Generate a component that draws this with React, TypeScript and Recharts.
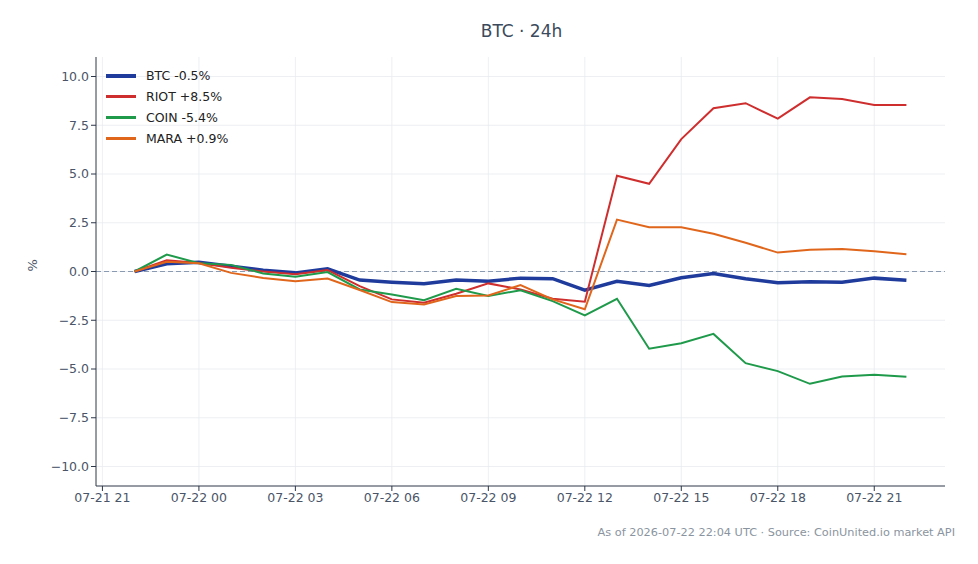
import { LineChart, Line, XAxis, YAxis, ReferenceLine } from "recharts";

// hours since 07-21 00:00 (UTC)
const hours = [22, 23, 24, 25, 26, 27, 28, 29, 30, 31, 32, 33, 34, 35, 36, 37, 38, 39, 40, 41, 42, 43, 44, 45, 46];

const btc = [0, 0.4, 0.48, 0.27, 0.07, -0.07, 0.14, -0.44, -0.55, -0.63, -0.44, -0.5, -0.34, -0.37, -0.96, -0.5, -0.72, -0.32, -0.1, -0.37, -0.58, -0.53, -0.55, -0.34, -0.45];
const riot = [0, 0.58, 0.44, 0.19, 0.0, -0.14, 0.07, -0.75, -1.43, -1.6, -1.14, -0.61, -0.92, -1.4, -1.55, 4.91, 4.5, 6.79, 8.37, 8.63, 7.84, 8.93, 8.85, 8.54, 8.54];
const coin = [0, 0.87, 0.42, 0.34, -0.1, -0.27, -0.03, -0.92, -1.18, -1.47, -0.89, -1.25, -0.96, -1.52, -2.25, -1.4, -3.96, -3.68, -3.2, -4.7, -5.11, -5.76, -5.39, -5.29, -5.4];
const mara = [0, 0.5, 0.42, -0.07, -0.33, -0.5, -0.36, -0.95, -1.57, -1.69, -1.26, -1.23, -0.7, -1.43, -1.94, 2.66, 2.27, 2.27, 1.94, 1.47, 0.97, 1.12, 1.16, 1.04, 0.89];

const xTicks = [21, 24, 27, 30, 33, 36, 39, 42, 45];
const yTicks = [-10, -7.5, -5, -2.5, 0, 2.5, 5, 7.5, 10];

const series = [
  { key: "btc", label: "BTC -0.5%", color: "#1f3b9c", width: 3.5 },
  { key: "riot", label: "RIOT +8.5%", color: "#cf2e2e", width: 2 },
  { key: "coin", label: "COIN -5.4%", color: "#1f9a4b", width: 2 },
  { key: "mara", label: "MARA +0.9%", color: "#e0661c", width: 2 },
];

const data = hours.map((h, i) => ({ h, btc: btc[i], riot: riot[i], coin: coin[i], mara: mara[i] }));

const font = "'DejaVu Sans', sans-serif";
const tickStyle = { fontSize: 12.5, fill: "#4a5568", fontFamily: font };
const gridColor = "#e8ebef";

function fmtHour(h: number) {
  const day = h >= 24 ? "07-22" : "07-21";
  return `${day} ${String(h % 24).padStart(2, "0")}`;
}

function fmtPct(v: number) {
  return v < 0 ? `\u2212${Math.abs(v).toFixed(1)}` : v.toFixed(1);
}

function LegendBox() {
  return (
    <div style={{ position: "absolute", left: 106, top: 65, fontFamily: font, fontSize: 12.5, color: "#222" }}>
      {series.map((s) => (
        <div key={s.key} style={{ display: "flex", alignItems: "center", height: 21 }}>
          <div style={{ width: 30, height: s.width + 0.5, background: s.color, marginRight: 10 }} />
          <span>{s.label}</span>
        </div>
      ))}
    </div>
  );
}

export default function App() {
  return (
    <div style={{ position: "absolute", left: 0, top: 0, width: 978, height: 564, background: "#fff" }}>
      <div style={{ position: "absolute", top: 21, left: 96, width: 851, textAlign: "center", fontFamily: font, fontSize: 17, color: "#3b4a5c" }}>
        BTC · 24h
      </div>
      <LineChart width={978} height={564} data={data} margin={{ top: 57, right: 33, bottom: 48, left: 36 }}>
        <XAxis
          dataKey="h"
          type="number"
          domain={[20.8, 47.2]}
          ticks={xTicks}
          tickFormatter={fmtHour}
          tick={tickStyle}
          height={30}
          stroke="#2d3748"
          tickSize={5}
          allowDataOverflow
        />
        <YAxis
          type="number"
          domain={[-11, 11]}
          ticks={yTicks}
          tickFormatter={fmtPct}
          tick={tickStyle}
          width={60}
          stroke="#2d3748"
          tickSize={5}
          label={{ value: "%", angle: -90, position: "insideLeft", offset: -4, style: { ...tickStyle, fontSize: 13 } }}
        />
        {xTicks.map((t) => (
          <ReferenceLine key={`gx${t}`} x={t} stroke={gridColor} strokeWidth={0.8} />
        ))}
        {yTicks.map((t) => (
          <ReferenceLine key={`gy${t}`} y={t} stroke={gridColor} strokeWidth={0.8} />
        ))}
        <ReferenceLine y={0} stroke="#8a9ab0" strokeDasharray="5 3" strokeWidth={1} />
        {series.map((s) => (
          <Line
            key={s.key}
            dataKey={s.key}
            stroke={s.color}
            strokeWidth={s.width}
            dot={false}
            isAnimationActive={false}
            type="linear"
          />
        ))}
      </LineChart>
      <LegendBox />
      <div style={{ position: "absolute", top: 526, right: 23, fontFamily: font, fontSize: 11.3, color: "#8a94a0" }}>
        As of 2026-07-22 22:04 UTC · Source: CoinUnited.io market API
      </div>
    </div>
  );
}
